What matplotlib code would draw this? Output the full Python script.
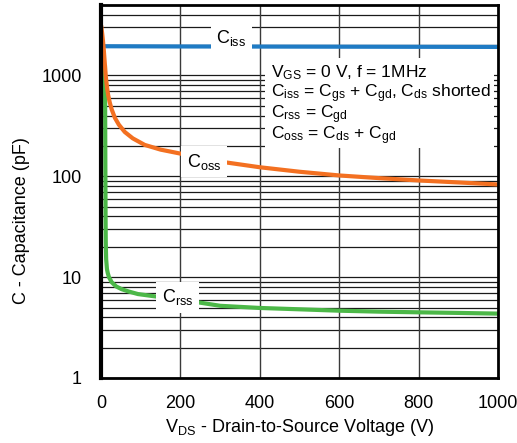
import numpy as np
import matplotlib
matplotlib.use("Agg")
import matplotlib.pyplot as plt
from matplotlib.patches import Rectangle
from matplotlib.ticker import FixedLocator, NullFormatter, FixedFormatter

plt.rcParams['font.family'] = ['Liberation Sans', 'DejaVu Sans']
plt.rcParams['mathtext.fontset'] = 'custom'
plt.rcParams['mathtext.rm'] = 'Liberation Sans'
plt.rcParams['mathtext.it'] = 'Liberation Sans'

# Capacitance vs drain-source voltage
vds_iss = [5, 100, 200, 400, 600, 800, 1000]
c_iss = [1950, 1945, 1940, 1935, 1930, 1925, 1920]

vds_oss = [1, 3, 5, 7, 10, 12, 15, 18, 22, 27, 35, 45, 60, 80, 110, 150, 200,
           300, 400, 500, 600, 700, 800, 900, 1000]
c_oss = [3000, 2600, 2200, 1800, 1250, 980, 770, 640, 540, 460, 380, 325, 275,
         238, 205, 184, 168, 140, 123, 111, 102, 96, 91, 87, 83]

vds_rss = [10, 10.5, 11, 11.5, 12, 13, 15, 17, 20, 27, 38, 52, 70, 93, 136, 200,
           300, 400, 500, 600, 700, 800, 900, 1000]
c_rss = [1200, 400, 120, 40, 22, 15, 12, 11, 10, 8.9, 8.1, 7.6, 7.2, 6.8, 6.45,
         6.0, 5.2, 4.95, 4.8, 4.65, 4.55, 4.48, 4.42, 4.35]

x_ticks = [0, 200, 400, 600, 800, 1000]
y_ticks = [1, 10, 100, 1000]
y_tick_labels = ['1', '10', '100', '1000']

note_lines = [
    'V$_{\\mathregular{GS}}$ = 0 V, f = 1MHz',
    'C$_{\\mathregular{iss}}$ = C$_{\\mathregular{gs}}$ + C$_{\\mathregular{gd}}$, '
    'C$_{\\mathregular{ds}}$ shorted',
    'C$_{\\mathregular{rss}}$ = C$_{\\mathregular{gd}}$',
    'C$_{\\mathregular{oss}}$ = C$_{\\mathregular{ds}}$ + C$_{\\mathregular{gd}}$',
]

W, H = 517, 443
fig = plt.figure(figsize=(W / 100, H / 100), dpi=100)
ax = fig.add_axes([101 / W, 1 - 378 / H, 397 / W, 373 / H])

ax.set_yscale('log')
ax.set_xlim(0, 1000)
ax.set_ylim(1, 5000)

# grid: horizontal at every 1-9 step of each decade, vertical at x ticks
minor = [m * 10 ** d for d in range(0, 4) for m in range(2, 10) if m * 10 ** d < 5000]
for y in y_ticks + minor:
    ax.axhline(y, color='#1a1a1a', lw=0.9, zorder=1)
for x in x_ticks[1:-1]:
    ax.axvline(x, color='#3a3a3a', lw=1.0, zorder=1)

ax.plot(vds_iss, c_iss, color='#1f7bc4', lw=3, zorder=3, solid_capstyle='butt')
ax.plot(vds_rss, c_rss, color='#4cb848', lw=3, zorder=3)
ax.plot(vds_oss, c_oss, color='#f37021', lw=3, zorder=4)

ax.xaxis.set_major_locator(FixedLocator(x_ticks))
ax.yaxis.set_major_locator(FixedLocator(y_ticks))
ax.yaxis.set_major_formatter(FixedFormatter(y_tick_labels))
ax.yaxis.set_minor_formatter(NullFormatter())
ax.tick_params(axis='both', which='both', length=0, labelsize=13)
ax.tick_params(axis='x', pad=12)
ax.tick_params(axis='y', pad=14)

for s in ax.spines.values():
    s.set_linewidth(2)
    s.set_color('black')
    s.set_zorder(6)
ax.spines['left'].set_linewidth(3)

box = dict(facecolor='white', edgecolor='none', pad=4)
ax.text(328, 2350, r'C$_{\mathregular{iss}}$', fontsize=13, ha='center', va='center',
        bbox=box, zorder=5)
ax.text(259, 139, r'C$_{\mathregular{oss}}$', fontsize=13, ha='center', va='center',
        bbox=box, zorder=5)
ax.text(193, 6.3, r'C$_{\mathregular{rss}}$', fontsize=13, ha='center', va='center',
        bbox=box, zorder=5)

# white panel behind the test-condition notes
ax.add_patch(Rectangle((265 / W, 1 - 148 / H), 229 / W, 90 / H,
                       transform=fig.transFigure, facecolor='white',
                       edgecolor='none', zorder=4.5))
for i, line in enumerate(note_lines):
    fig.text(271 / W, 1 - (73 + 21 * i) / H, line, fontsize=12.5,
             ha='left', va='center', zorder=7)

fig.text(300 / W, 1 - 428 / H,
         'V$_{\\mathregular{DS}}$ - Drain-to-Source Voltage (V)',
         fontsize=13, ha='center', va='center')
fig.text(22 / W, 1 - 221 / H, 'C - Capacitance (pF)', fontsize=13,
         ha='center', va='center', rotation=90)

fig.savefig('out.png', dpi=100)
